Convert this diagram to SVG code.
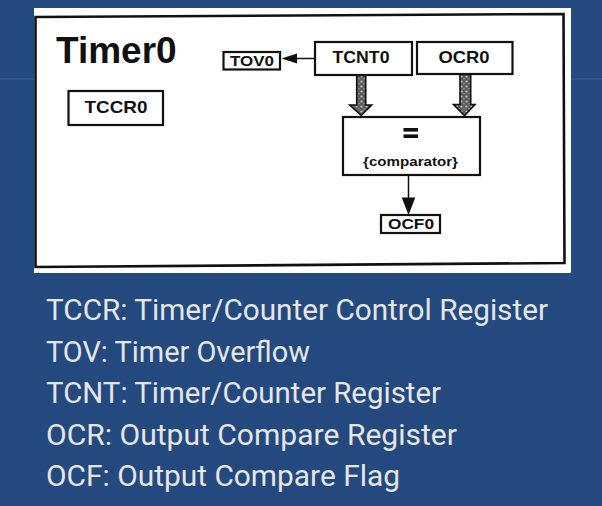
<svg xmlns="http://www.w3.org/2000/svg" width="602" height="506" viewBox="0 0 602 506">
  <defs>
    <style>
      .box { fill: #ffffff; stroke: #111111; stroke-width: 2.2; }
      .lbl { font-family: "Liberation Sans", Arial, sans-serif; font-weight: bold; fill: #111111; text-anchor: middle; }
      .legend { font-family: Roboto, "Open Sans", sans-serif; font-size: 29px; fill: #e6e6e6; }
      .wire { stroke: #111111; stroke-width: 1.5; fill: none; }
      .head { fill: #111111; }
      .fat { fill: url(#speckle); stroke: #111111; stroke-width: 1.6; stroke-linejoin: miter; }
    </style>
    <pattern id="speckle" width="5" height="5" patternUnits="userSpaceOnUse">
      <rect width="5" height="5" fill="#5a5a5a"/>
      <circle cx="1.5" cy="1.5" r="1.1" fill="#c8c8c8"/>
      <circle cx="4" cy="3.8" r="0.8" fill="#a8a8a8"/>
    </pattern>
  </defs>

  <!-- slide background -->
  <rect x="0" y="0" width="602" height="506" fill="#23497f"/>
  <line x1="0" y1="79" x2="602" y2="79" stroke="#3d67a0" stroke-width="1"/>

  <!-- white panel with black frame -->
  <rect x="34" y="8" width="537" height="265" fill="#ffffff"/>
  <path d="M35.5 17 L563.5 14 L564.5 263 L35.5 267 Z" fill="none" stroke="#111111" stroke-width="2.6"/>

  <text x="56" y="63" font-family="Liberation Sans, Arial, sans-serif" font-weight="bold" font-size="37" fill="#111111">Timer0</text>

  <g id="TCCR0">
    <rect class="box" x="68.5" y="91" width="94.5" height="34"/>
    <text class="lbl" x="116" y="113" font-size="17" textLength="63" lengthAdjust="spacingAndGlyphs">TCCR0</text>
  </g>

  <g id="TOV0">
    <rect class="box" x="223.5" y="52" width="56.5" height="17.5"/>
    <text class="lbl" x="252" y="65.5" font-size="14.5" textLength="44" lengthAdjust="spacingAndGlyphs">TOV0</text>
  </g>

  <g id="TCNT0">
    <rect class="box" x="315" y="42" width="97" height="33" stroke-width="2.5"/>
    <text class="lbl" x="361" y="63" font-size="16.5" textLength="57" lengthAdjust="spacingAndGlyphs">TCNT0</text>
  </g>

  <g id="OCR0">
    <rect class="box" x="417" y="42" width="95.5" height="32" stroke-width="2.5"/>
    <text class="lbl" x="464" y="62.5" font-size="16.5" textLength="51" lengthAdjust="spacingAndGlyphs">OCR0</text>
  </g>

  <g id="comparator">
    <rect class="box" x="343" y="117" width="137" height="58" stroke-width="3"/>
    <rect x="403.5" y="128" width="14.5" height="3.6" fill="#111111"/>
    <rect x="403.5" y="134.4" width="14.5" height="3.6" fill="#111111"/>
    <text class="lbl" x="410.5" y="166" font-size="12.5" textLength="95" lengthAdjust="spacingAndGlyphs">{comparator}</text>
  </g>

  <g id="OCF0">
    <rect class="box" x="381" y="215" width="59" height="18"/>
    <text class="lbl" x="411" y="229" font-size="14" textLength="46" lengthAdjust="spacingAndGlyphs">OCF0</text>
  </g>

  <g id="connectors">
    <!-- TCNT0 -> TOV0 -->
    <line class="wire" x1="315" y1="58.5" x2="296" y2="58.5"/>
    <polygon class="head" points="297,53.5 297,63.5 281.5,58.5"/>
    <!-- TCNT0 -> comparator (fat bus arrow) -->
    <polygon class="fat" points="356.7,75.5 365.7,75.5 365.7,105 371.7,105 361.2,115.5 349.7,105 356.7,105"/>
    <!-- OCR0 -> comparator (fat bus arrow) -->
    <polygon class="fat" points="460,74.5 470.7,74.5 470.7,104.5 475,104.5 464.5,115.5 453.5,104.5 460,104.5"/>
    <!-- comparator -> OCF0 -->
    <line class="wire" x1="408.5" y1="175" x2="408.5" y2="199"/>
    <polygon class="head" points="401.7,197.5 415.3,197.5 408.5,215"/>
  </g>

  <g id="legend">
    <text class="legend" x="46" y="320" textLength="502" lengthAdjust="spacingAndGlyphs">TCCR: Timer/Counter Control Register</text>
    <text class="legend" x="46" y="361.5" textLength="264" lengthAdjust="spacingAndGlyphs">TOV: Timer Overflow</text>
    <text class="legend" x="46" y="403" textLength="395" lengthAdjust="spacingAndGlyphs">TCNT: Timer/Counter Register</text>
    <text class="legend" x="46" y="444.5" textLength="411" lengthAdjust="spacingAndGlyphs">OCR: Output Compare Register</text>
    <text class="legend" x="46" y="486" textLength="354" lengthAdjust="spacingAndGlyphs">OCF: Output Compare Flag</text>
  </g>
</svg>
